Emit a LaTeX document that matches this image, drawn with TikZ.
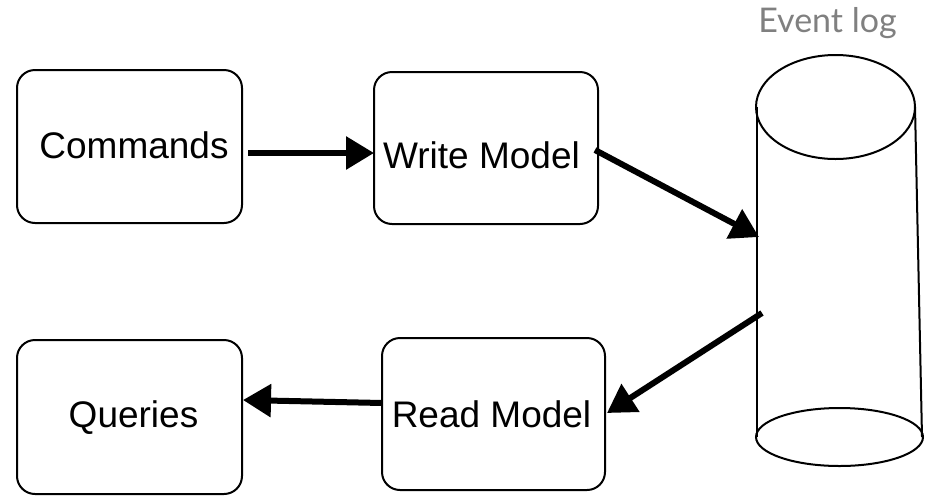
\documentclass[tikz,border=0pt]{standalone}
\usepackage{fontspec}
\setmainfont{Liberation Sans}
\newfontfamily\eventfont{Lato}
\usetikzlibrary{arrows.meta}

\tikzset{
  box/.style={draw, line width=2pt, rounded corners=18pt, inner sep=0pt},
  lbl/.style={anchor=base, inner sep=0pt, font=\fontsize{37}{41}\selectfont},
  flow/.style={line width=6pt, -{Triangle[length=28pt, width=32pt]}},
  drum/.style={line width=2pt},
}

\begin{document}
\begin{tikzpicture}[x=1pt, y=-1pt]
  \useasboundingbox (0,0) rectangle (926,496);

  % the four boxes
  \node[box, minimum width=225pt, minimum height=153pt] (cmd) at (129.5,146.5) {};
  \node[box, minimum width=224pt, minimum height=152pt] (wm)  at (486,148) {};
  \node[box, minimum width=225pt, minimum height=154pt] (qry) at (129.5,417) {};
  \node[box, minimum width=223pt, minimum height=152pt] (rm)  at (493.5,414) {};

  % box captions
  \node[lbl] (cmdtext) at (134,158) {Commands};
  \node[lbl] (wmtext)  at (481.5,168) {Write Model};
  \node[lbl] (rmtext)  at (491.5,427) {Read Model};
  \node[lbl] (qrytext) at (133.5,427) {Queries};

  % event log drum
  \draw[drum] (835.5,107) ellipse [x radius=79.5, y radius=52];
  \draw[drum] (839.5,437) ellipse [x radius=83.5, y radius=29];
  \draw[drum] (757,107) -- (757,437);
  \draw[drum] (915,107) -- (922,437);
  \node[anchor=base, inner sep=0pt, text=black!50,
        font=\eventfont\fontsize{34}{38}\selectfont] (logtitle) at (827.5,32) {Event log};

  % connection points on the drum and the boxes
  \coordinate (login)  at (759,237);
  \coordinate (logout) at (762,313);
  \coordinate (wmout)  at (595,150);
  \coordinate (cmdout) at (248,153);
  \coordinate (wmin)   at (374,153);
  \coordinate (rmin)   at (607,413);
  \coordinate (rmout)  at (382,403);
  \coordinate (qryin)  at (243,400);

  % flow arrows
  \draw[flow] (cmdout) -- (wmin);
  \draw[flow] (wmout) -- (login);
  \draw[flow] (logout) -- (rmin);
  \draw[flow] (rmout) -- (qryin);
\end{tikzpicture}
\end{document}
